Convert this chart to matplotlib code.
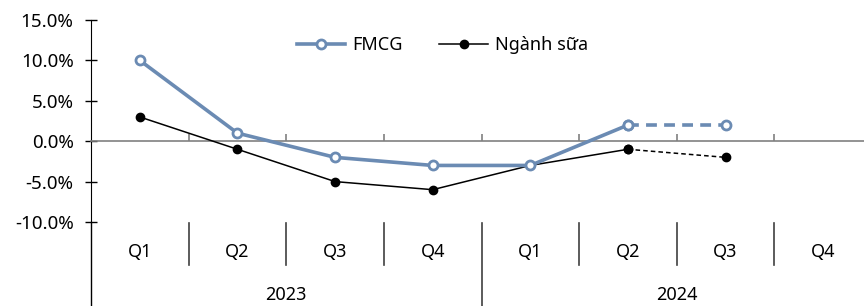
import matplotlib
matplotlib.use("Agg")
import matplotlib.pyplot as plt
from matplotlib.lines import Line2D
from matplotlib.ticker import FuncFormatter
import numpy as np

plt.rcParams["font.family"] = ["Noto Sans", "DejaVu Sans"]

QUARTERS = ["Q1", "Q2", "Q3", "Q4", "Q1", "Q2", "Q3", "Q4"]
YEARS = ["2023", "2024"]
FMCG = [10, 1, -2, -3, -3, 2]
FMCG_EST = [2, 2]          # Q2-2024 -> Q3-2024 (dashed)
DAIRY = [3, -1, -5, -6, -3, -1]
DAIRY_EST = [-1, -2]

BLUE = "#6b8bb3"

fig = plt.figure(figsize=(8.64, 3.06), dpi=100)
ax = fig.add_axes([91 / 864, 84 / 306, 781 / 864, 202 / 306])

x = np.arange(len(QUARTERS))
ax.plot(x[:len(FMCG)], FMCG, color=BLUE, lw=2.6, marker="o", ms=6.5,
        mfc="white", mec=BLUE, mew=2, label="FMCG", zorder=4)
ax.plot(x[5:5 + len(FMCG_EST)], FMCG_EST, color=BLUE, lw=2.6, ls=(0, (3, 2)),
        marker="o", ms=6.5, mfc="white", mec=BLUE, mew=2, zorder=4)
ax.plot(x[:len(DAIRY)], DAIRY, color="black", lw=1.1, marker="o", ms=6,
        label="Ngành sữa", zorder=3)
ax.plot(x[5:5 + len(DAIRY_EST)], DAIRY_EST, color="black", lw=1.1, ls=(0, (3, 2)),
        marker="o", ms=6, zorder=3)

ax.set_xlim(-0.5, len(QUARTERS) - 0.5)
ax.set_ylim(-10, 15)
ax.set_yticks(np.arange(-10, 16, 5))
ax.yaxis.set_major_formatter(FuncFormatter(lambda v, p: f"{v:.1f}%"))
ax.tick_params(axis="y", direction="inout", length=9, width=1, labelsize=13.5, pad=8)

for s in ["top", "right"]:
    ax.spines[s].set_visible(False)
ax.spines["left"].set_color("black")
ax.spines["bottom"].set_position(("data", 0))
ax.spines["bottom"].set_color("#808080")
ax.spines["bottom"].set_linewidth(1.2)
ax.set_xticks(np.arange(0.5, len(QUARTERS) - 0.5, 1))
ax.set_xticklabels([])
ax.tick_params(axis="x", direction="in", length=5, color="#808080", width=1.2)

# left axis continues down through the category area
trans = ax.get_xaxis_transform()
ax.add_line(Line2D([-0.5, -0.5], [0, -84 / 202], transform=trans, color="black",
                   lw=1, clip_on=False))
for i in range(1, len(QUARTERS)):
    low = -84 / 202 if i == 4 else -43 / 202
    ax.add_line(Line2D([i - 0.5, i - 0.5], [-1 / 202, low], transform=trans,
                       color="#404040", lw=1.2, clip_on=False))
for i, q in enumerate(QUARTERS):
    ax.text(i, -30 / 202, q, transform=trans, ha="center", va="center", fontsize=13)
for j, yr in enumerate(YEARS):
    ax.text(j * 4 + 1.5, -73 / 202, yr, transform=trans, ha="center", va="center",
            fontsize=13)

ax.legend(loc="upper center", bbox_to_anchor=(0.45, 1.0), ncol=2, frameon=False,
          fontsize=13, handlelength=2.7, columnspacing=2.0, handletextpad=0.4)

fig.savefig("out.png", dpi=100)
